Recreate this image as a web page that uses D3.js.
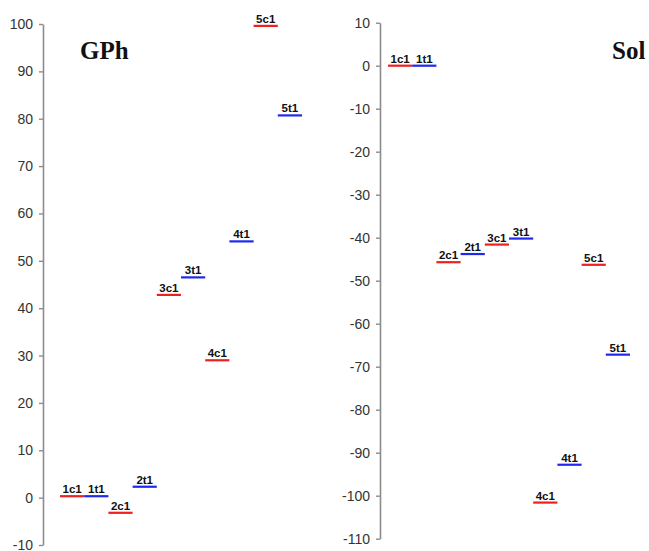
<!DOCTYPE html>
<html>
<head>
<meta charset="utf-8">
<script src="https://cdn.jsdelivr.net/npm/d3@7"></script>
<style>
  body { margin: 0; background: #fff; }
  svg { display: block; }
  .tick text { font-family: Arial, "Liberation Sans", sans-serif; font-size: 14px; fill: #333; }
</style>
</head>
<body>
<svg id="chart" width="649" height="551"></svg>
<script>
// conformers, c = cis (red), t = trans (blue)
const labels = ["1c1", "1t1", "2c1", "2t1", "3c1", "3t1", "4c1", "4t1", "5c1", "5t1"];
const gphValues = [0.3, 0.3, -3.2, 2.3, 42.8, 46.5, 29.0, 54.1, 99.6, 80.7];
const solValues = [0, 0, -45.7, -43.8, -41.6, -40.2, -101.6, -92.8, -46.3, -67.2];
const gphTicks = [-10, 0, 10, 20, 30, 40, 50, 60, 70, 80, 90, 100];
const solTicks = [-110, -100, -90, -80, -70, -60, -50, -40, -30, -20, -10, 0, 10];

const svg = d3.select("#chart");
const colorOf = (lab) => lab.indexOf("c") >= 0 ? "#f01e1e" : "#1e28f0";

const buildPanel = (values, ticks, opts) => {
    let g = svg.append("g");
    let y = d3.scaleLinear()
        .domain(d3.extent(ticks))
        .range([opts.bottom, opts.top]);
    let x = d3.scaleBand()
        .domain(labels)
        .range([opts.x0, opts.x1]);

    // plain hyphen for negatives, like the original
    let y_axis = d3.axisLeft(y).tickValues(ticks).tickFormat(d => String(d))
        .tickSize(4).tickSizeOuter(0).tickPadding(6);
    let ax = g.append("g")
        .attr("transform", "translate(" + opts.axisX + ",0)")
        .call(y_axis);
    ax.select(".domain").attr("stroke", "#8c8c8c").attr("stroke-width", 1.6);
    ax.selectAll(".tick line").attr("stroke", "#8c8c8c").attr("stroke-width", 1.4);

    let rows = labels.map((lab, i) => ({ lab: lab, v: values[i] }));

    g.selectAll("line.lvl")
        .data(rows)
        .enter().append("line")
        .attr("class", "lvl")
        .attr("x1", d => x(d.lab))
        .attr("x2", d => x(d.lab) + x.bandwidth())
        .attr("y1", d => y(d.v))
        .attr("y2", d => y(d.v))
        .attr("stroke", d => colorOf(d.lab))
        .attr("stroke-width", 2.2);

    g.selectAll("text.lab")
        .data(rows)
        .enter().append("text")
        .attr("class", "lab")
        .attr("x", d => x(d.lab) + x.bandwidth() / 2)
        .attr("y", d => y(d.v) - 3)
        .attr("text-anchor", "middle")
        .style("font-family", "Arial, 'Liberation Sans', sans-serif")
        .style("font-size", "11.5px")
        .style("font-weight", "bold")
        .style("fill", "#111")
        .text(d => d.lab);

    g.append("text")
        .attr("x", opts.titleX)
        .attr("y", 59)
        .style("font-family", "'Liberation Serif', 'Times New Roman', serif")
        .style("font-size", "25px")
        .style("font-weight", "bold")
        .style("fill", "#111")
        .text(opts.title);
};

buildPanel(gphValues, gphTicks, { axisX: 43, top: 24, bottom: 545, x0: 60, x1: 302, title: "GPh", titleX: 80 });
buildPanel(solValues, solTicks, { axisX: 380, top: 22.7, bottom: 538.7, x0: 388, x1: 630, title: "Sol", titleX: 612 });
</script>
</body>
</html>
